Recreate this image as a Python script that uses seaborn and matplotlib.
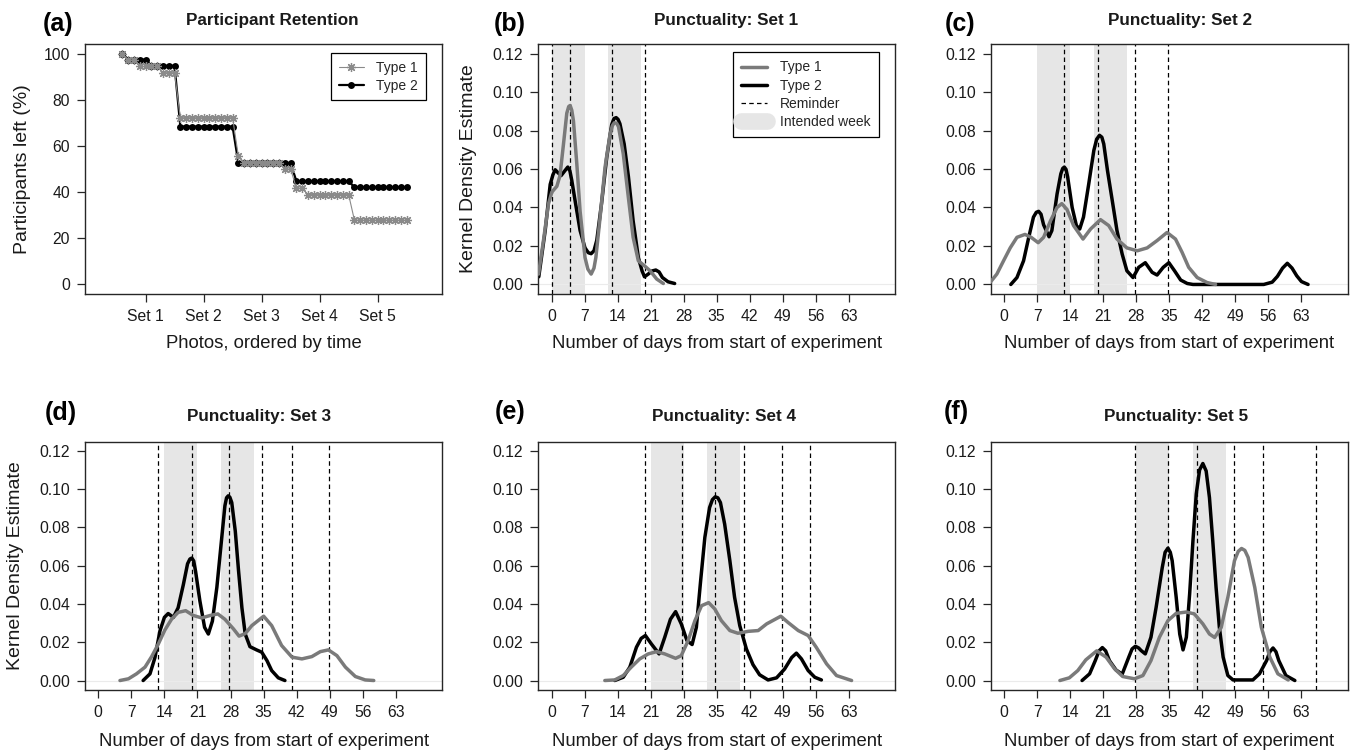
import numpy as np
import pandas as pd
import matplotlib
matplotlib.use("Agg")
import matplotlib.pyplot as plt
import seaborn as sns
from matplotlib.lines import Line2D

# ---------------- data ----------------
photo_index = list(range(1, 51))
set_ticks = [5, 15, 25, 35, 45]
set_labels = ["Set 1", "Set 2", "Set 3", "Set 4", "Set 5"]
type1_retention = ([100, 97.2, 97.2, 94.4, 94.4, 94.4, 94.4, 91.7, 91.7, 91.7]
                   + [72.2] * 10
                   + [55.6] + [52.8] * 7 + [50.0, 50.0]
                   + [41.7, 41.7] + [38.9] * 8
                   + [27.8] * 10)
type2_retention = ([100, 97.4, 97.4, 97.4, 97.4] + [94.7] * 5
                   + [68.4] * 10 + [52.6] * 10 + [44.7] * 10 + [42.1] * 10)

day_ticks = [0, 7, 14, 21, 28, 35, 42, 49, 56, 63]
dens_ticks = [0.00, 0.02, 0.04, 0.06, 0.08, 0.10, 0.12]

# Set 1
s1_t1_day = [-2.75, -1.7, -0.63, 0.07, 1.13, 1.8, 2.54, 3.24, 3.65, 3.95, 4.3, 4.65, 5.36, 6.06, 7.1, 7.7,
             8.4, 9.0, 9.4, 10.3, 11.35, 12.4, 12.9, 13.3, 13.8, 14.2, 15.2, 16.3, 17.3, 18.4, 19.7, 20.9,
             22.3, 23.7]
s1_t1_kde = [0.0054, 0.023, 0.042, 0.048, 0.051, 0.0566, 0.073, 0.089, 0.0925, 0.093, 0.0905, 0.085, 0.0627,
             0.038, 0.014, 0.008, 0.0054, 0.0085, 0.014, 0.035, 0.061, 0.078, 0.0825, 0.084, 0.0838, 0.082,
             0.068, 0.045, 0.0245, 0.0123, 0.0097, 0.0071, 0.0028, 0.0005]
s1_t2_day = [-2.7, -1.34, -0.28, 0.3, 0.78, 1.4, 2.04, 2.8, 3.45, 3.9, 4.3, 5.1, 6.06, 7.1, 7.8, 8.4, 9.0,
             9.6, 10.6, 11.7, 12.75, 13.25, 13.7, 14.1, 14.5, 15.4, 16.3, 17.3, 18.4, 19.2, 19.7, 20.5, 21.3,
             22.1, 22.8, 23.5, 24.7, 26.1]
s1_t2_kde = [0.004, 0.028, 0.052, 0.057, 0.0596, 0.058, 0.0566, 0.059, 0.061, 0.059, 0.054, 0.042, 0.028,
             0.019, 0.0165, 0.016, 0.0175, 0.023, 0.042, 0.066, 0.083, 0.0862, 0.0867, 0.0858, 0.0835, 0.073,
             0.056, 0.033, 0.014, 0.007, 0.004, 0.0054, 0.007, 0.0075, 0.0065, 0.0036, 0.0014, 0.0005]
s1_reminders = [0, 3.9, 12.75, 19.9]
s1_weeks = [(0, 7), (12, 19)]

# Set 2
s2_t1_day = [-3.0, -1.56, -0.14, 1.27, 2.7, 4.4, 5.7, 7.2, 8.35, 9.8, 11.2, 12.2, 13.3, 14.7, 16.7, 18.3,
             20.4, 22.15, 23.9, 26.0, 28.2, 30.3, 32.4, 34.5, 36.3, 37.7, 39.1, 40.9, 43.0, 44.8]
s2_t1_kde = [0.001, 0.0054, 0.0123, 0.019, 0.0245, 0.026, 0.0245, 0.0217, 0.0245, 0.033, 0.040, 0.042,
             0.039, 0.0306, 0.0236, 0.0288, 0.0337, 0.0306, 0.0236, 0.019, 0.0175, 0.019, 0.0228, 0.027,
             0.0236, 0.0167, 0.0089, 0.0036, 0.001, 0.0]
s2_t2_day = [1.4, 2.7, 4.1, 5.2, 6.2, 6.8, 7.3, 7.8, 8.35, 9.5, 10.1, 11.2, 12.0, 12.4, 12.74, 13.1, 13.45,
             14.4, 15.3, 16.0, 16.8, 17.9, 19.0, 19.6, 20.2, 20.7, 21.1, 21.9, 22.9, 23.9, 25.0, 26.0, 27.3,
             28.5, 29.9, 31.35, 32.4, 33.7, 34.9, 36.1, 37.4, 38.8, 40.0, 55.0, 56.8, 57.9, 59.0, 60.0, 61.0,
             62.0, 63.0, 64.4]
s2_t2_kde = [0, 0.0036, 0.0123, 0.0245, 0.035, 0.0375, 0.038, 0.0365, 0.031, 0.0248, 0.028, 0.047, 0.0575,
             0.0603, 0.061, 0.0598, 0.0558, 0.040, 0.0306, 0.0288, 0.035, 0.052, 0.0697, 0.0755, 0.0775,
             0.0765, 0.073, 0.059, 0.0436, 0.028, 0.0158, 0.0071, 0.0036, 0.0089, 0.0113, 0.0063, 0.0049,
             0.0089, 0.0113, 0.0071, 0.0023, 0.0005, 0.0, 0.0, 0.0012, 0.0042, 0.0085, 0.011, 0.0085, 0.0045,
             0.0015, 0.0]
s2_reminders = [12.75, 19.9, 27.75, 34.75]
s2_weeks = [(7, 14), (19, 26)]

# Set 3
s3_t1_day = [4.6, 6.4, 8.1, 9.9, 11.3, 12.7, 14.1, 15.5, 16.9, 18.5, 20.1, 21.9, 23.7, 25.3, 26.8, 28.6,
             29.8, 31.1, 32.5, 35.0, 36.7, 38.8, 41.0, 43.1, 45.2, 47.0, 48.7, 50.5, 52.3, 54.4, 56.5, 58.3]
s3_t1_kde = [0, 0.0009, 0.0035, 0.007, 0.0125, 0.019, 0.0264, 0.032, 0.0356, 0.0365, 0.034, 0.0327, 0.034,
             0.0348, 0.032, 0.027, 0.0232, 0.0245, 0.0287, 0.0336, 0.0287, 0.0183, 0.0122, 0.0113, 0.0125,
             0.0151, 0.016, 0.013, 0.007, 0.0021, 0.0003, 0]
s3_t2_day = [9.5, 10.95, 12.0, 13.07, 14.0, 14.8, 15.9, 16.9, 18.0, 18.9, 19.4, 19.8, 20.2, 20.6, 21.5,
             22.5, 23.3, 24.15, 25.1, 26.0, 26.8, 27.15, 27.5, 27.85, 28.25, 29.0, 29.7, 30.4, 31.1, 32.1,
             33.5, 34.6, 35.7, 36.7, 38.1, 39.5]
s3_t2_kde = [0, 0.0035, 0.012, 0.026, 0.033, 0.035, 0.033, 0.038, 0.050, 0.061, 0.0635, 0.064, 0.0625,
             0.057, 0.0417, 0.0278, 0.0243, 0.031, 0.0487, 0.0713, 0.0913, 0.0955, 0.0965, 0.0958, 0.093,
             0.078, 0.057, 0.038, 0.0243, 0.0177, 0.016, 0.0148, 0.0104, 0.0052, 0.0014, 0]
s3_reminders = [12.75, 19.9, 27.75, 34.75, 41.0, 48.75]
s3_weeks = [(14, 21), (26, 33)]

# Set 4
s4_t1_day = [11.3, 13.4, 15.2, 16.9, 18.7, 20.5, 22.3, 24.0, 26.3, 27.5, 28.96, 30.4, 31.8, 33.3, 34.6,
             36.0, 37.8, 39.5, 41.7, 43.8, 45.6, 48.6, 50.1, 52.3, 54.4, 56.1, 58.3, 60.4, 63.6]
s4_t1_kde = [0, 0.0003, 0.0026, 0.007, 0.0113, 0.0139, 0.0151, 0.0139, 0.0116, 0.013, 0.0209, 0.0313,
             0.0391, 0.0407, 0.0374, 0.0313, 0.0261, 0.0247, 0.0257, 0.0261, 0.0296, 0.0336, 0.0304, 0.0261,
             0.0235, 0.0174, 0.0087, 0.0026, 0]
s4_t2_day = [13.4, 15.2, 16.6, 18.0, 19.0, 19.9, 21.2, 22.8, 24.0, 25.2, 26.3, 27.5, 28.7, 29.8, 30.7,
             31.6, 32.5, 33.5, 34.1, 34.7, 35.25, 35.8, 36.7, 37.8, 38.8, 39.9, 41.3, 42.7, 44.1, 45.9, 47.7,
             49.4, 50.9, 51.9, 52.97, 54.4, 55.8, 57.2]
s4_t2_kde = [0, 0.0017, 0.007, 0.0174, 0.022, 0.0235, 0.019, 0.0139, 0.0226, 0.032, 0.036, 0.0296, 0.0209,
             0.0188, 0.0278, 0.052, 0.0748, 0.0904, 0.0945, 0.096, 0.0955, 0.093, 0.0817, 0.0626, 0.0435,
             0.0287, 0.0165, 0.0083, 0.003, 0.0003, 0.0014, 0.006, 0.012, 0.0143, 0.0113, 0.0052, 0.0017,
             0.0003]
s4_reminders = [19.9, 27.75, 34.75, 40.9, 48.75, 54.75]
s4_weeks = [(21, 28), (33, 40)]

# Set 5
s5_t1_day = [11.8, 13.8, 15.6, 17.3, 19.6, 21.6, 23.4, 25.1, 27.6, 29.4, 31.1, 32.9, 34.7, 36.45, 38.6,
             40.3, 42.1, 43.5, 44.6, 46.0, 47.4, 48.8, 49.6, 50.3, 51.0, 51.7, 53.1, 54.5, 56.3, 58.0, 60.2]
s5_t1_kde = [0, 0.0014, 0.0052, 0.0108, 0.0155, 0.0122, 0.0061, 0.0021, 0.0009, 0.0026, 0.0104, 0.0226,
             0.0313, 0.0351, 0.0358, 0.0348, 0.0296, 0.0243, 0.0225, 0.0278, 0.0435, 0.0626, 0.0675, 0.069,
             0.068, 0.0643, 0.0487, 0.0278, 0.0122, 0.0035, 0.0003]
s5_t2_day = [16.5, 18.1, 19.3, 20.1, 20.8, 21.5, 22.3, 23.7, 25.0, 26.4, 27.1, 27.8, 28.5, 29.0, 29.9,
             31.1, 32.2, 33.5, 34.1, 34.7, 35.2, 35.6, 36.45, 37.2, 37.9, 38.6, 39.3, 40.0, 40.7, 41.4, 42.1,
             42.8, 43.5, 44.2, 44.9, 45.6, 46.4, 47.4, 48.5, 52.7, 54.1, 55.6, 56.3, 56.97, 57.6, 58.2, 59.7,
             61.6]
s5_t2_kde = [0, 0.0035, 0.0104, 0.0155, 0.0172, 0.0155, 0.0104, 0.0055, 0.0033, 0.0122, 0.0165, 0.0179,
             0.017, 0.0157, 0.0139, 0.0226, 0.0383, 0.0591, 0.067, 0.0692, 0.067, 0.0626, 0.0435, 0.0243,
             0.016, 0.0226, 0.0452, 0.073, 0.0974, 0.110, 0.1134, 0.1095, 0.0956, 0.073, 0.0487, 0.0278,
             0.0122, 0.0026, 0.0003, 0.0003, 0.0035, 0.0104, 0.015, 0.017, 0.015, 0.0104, 0.0026, 0]
s5_reminders = [27.75, 34.75, 40.9, 48.75, 54.9, 66.0]
s5_weeks = [(28, 35), (40, 47)]

# ---------------- style ----------------
sns.set_style("ticks")
plt.rcParams['font.family'] = ['Liberation Sans', 'DejaVu Sans']
plt.rcParams['axes.linewidth'] = 1.0

GRAY = '#7a7a7a'
SHADE = '#e6e6e6'
FRAME = '#262626'
TXT = '#1a1a1a'

W, H = 1353, 752
fig = plt.figure(figsize=(W / 100, H / 100), dpi=100)


def px_axes(left, top, right, bottom):
    return fig.add_axes([left / W, 1 - bottom / H, (right - left) / W, (bottom - top) / H])


def style_axes(ax):
    for s in ax.spines.values():
        s.set_color(FRAME)
        s.set_linewidth(1.0)
        s.set_visible(True)
    ax.tick_params(direction='out', length=5.8, width=0.9, color=FRAME, labelsize=11.3,
                   labelcolor=TXT, pad=5)
    ax.grid(False)


cols = [(85, 442.3), (538.3, 895), (991, 1347.7)]
rows = [(44.3, 293.7), (441.7, 689.7)]

# ---------------- panel (a) ----------------
axA = px_axes(cols[0][0], rows[0][0], cols[0][1], rows[0][1])
style_axes(axA)
sns.lineplot(x=photo_index, y=type1_retention, ax=axA, color='#8a8a8a', lw=0.8,
             marker=(8, 2, 0), markersize=6.5, markeredgewidth=0.9, markeredgecolor='#8a8a8a',
             errorbar=None, zorder=3)
sns.lineplot(x=photo_index, y=type2_retention, ax=axA, color='black', lw=1.6,
             marker='o', markersize=5, markeredgewidth=0, markeredgecolor='black',
             errorbar=None, zorder=2)
axA.set_xlim(-5.43, 56.14)
axA.set_ylim(-4, 104)
axA.set_yticks([0, 20, 40, 60, 80, 100])
axA.set_xticks(set_ticks)
axA.set_xticklabels(set_labels)
axA.set_xlabel("Photos, ordered by time", fontsize=13.3, color=TXT)
axA.set_ylabel("Participants left (%)", fontsize=14, color=TXT)
axA.xaxis.set_label_coords(0.5, (293.7 - 344) / 249.4)
axA.xaxis.label.set_va('center')
axA.yaxis.set_label_coords((23 - 85) / 357.3, 0.5)
axA.yaxis.label.set_va('center')
hA = [Line2D([], [], color='#8a8a8a', lw=0.8, marker=(8, 2, 0), markersize=6.5,
             markeredgewidth=0.9, markeredgecolor='#8a8a8a'),
      Line2D([], [], color='black', lw=1.6, marker='o', markersize=5, markeredgewidth=0)]
legA = axA.legend(hA, ["Type 1", "Type 2"], loc='upper right', bbox_to_anchor=(0.954, 0.965),
                  borderaxespad=0, frameon=True, fancybox=False, framealpha=1, edgecolor='black',
                  fontsize=10, handlelength=1.8, labelspacing=0.3, borderpad=0.55, handletextpad=0.9)
legA.get_frame().set_linewidth(0.9)

# ---------------- KDE panels ----------------
panels = [
    (s1_t1_day, s1_t1_kde, s1_t2_day, s1_t2_kde, s1_reminders, s1_weeks),
    (s2_t1_day, s2_t1_kde, s2_t2_day, s2_t2_kde, s2_reminders, s2_weeks),
    (s3_t1_day, s3_t1_kde, s3_t2_day, s3_t2_kde, s3_reminders, s3_weeks),
    (s4_t1_day, s4_t1_kde, s4_t2_day, s4_t2_kde, s4_reminders, s4_weeks),
    (s5_t1_day, s5_t1_kde, s5_t2_day, s5_t2_kde, s5_reminders, s5_weeks),
]
positions = [(1, 0), (2, 0), (0, 1), (1, 1), (2, 1)]
axes = {}
for (t1x, t1y, t2x, t2y, rem, weeks), (ci, ri) in zip(panels, positions):
    l, r = cols[ci]
    t, b = rows[ri]
    ax = px_axes(l, t, r, b)
    style_axes(ax)
    for (a0, a1) in weeks:
        ax.axvspan(a0, a1, color=SHADE, lw=0, zorder=0)
    ax.axhline(0, color='#ebebeb', lw=0.8, zorder=0.5)
    for d in rem:
        ax.axvline(d, color='black', lw=0.9, ls=(0, (3.6, 2.6)), zorder=1)
    sns.lineplot(x=t2x, y=t2y, ax=ax, color='black', lw=2.5, errorbar=None, zorder=2,
                 solid_joinstyle='round', solid_capstyle='round')
    sns.lineplot(x=t1x, y=t1y, ax=ax, color=GRAY, lw=2.5, errorbar=None, zorder=3,
                 solid_joinstyle='round', solid_capstyle='round')
    ax.set_xlim(-2.8, 72.8)
    ax.set_ylim(-0.0048, 0.1248)
    ax.set_xticks(day_ticks)
    ax.set_yticks(dens_ticks)
    ax.set_yticklabels([f"{v:.2f}" for v in dens_ticks])
    ax.set_xlabel("Number of days from start of experiment", fontsize=13.3, color=TXT)
    ax.xaxis.set_label_coords(0.5, (b - (344 if ri == 0 else 741)) / (b - t))
    ax.xaxis.label.set_va('center')
    ax.set_ylabel("")
    axes[(ci, ri)] = ax

for key, xpx in [((1, 0), 468.3), ((0, 1), 16.0)]:
    ax = axes[key]
    l, r = cols[key[0]]
    ax.set_ylabel("Kernel Density Estimate", fontsize=14, color=TXT)
    ax.yaxis.set_label_coords((xpx - l) / (r - l), 0.5)
    ax.yaxis.label.set_va('center')

# legend in panel (b)
hB = [Line2D([], [], color=GRAY, lw=2.5),
      Line2D([], [], color='black', lw=2.5),
      Line2D([], [], color='black', lw=0.9, ls=(0, (3.6, 2.6))),
      Line2D([], [], color=SHADE, lw=12, solid_capstyle='round')]
legB = axes[(1, 0)].legend(hB, ["Type 1", "Type 2", "Reminder", "Intended week"], loc='upper right',
                           bbox_to_anchor=(0.955, 0.969), borderaxespad=0, frameon=True, fancybox=False,
                           framealpha=1, edgecolor='black', fontsize=10, handlelength=1.9,
                           labelspacing=0.3, borderpad=0.6, handletextpad=0.9)
legB.get_frame().set_linewidth(0.9)

# ---------------- titles and panel labels ----------------
titles = [("Participant Retention", 272.7, 20), ("Punctuality: Set 1", 726, 20),
          ("Punctuality: Set 2", 1179.5, 20), ("Punctuality: Set 3", 259, 416),
          ("Punctuality: Set 4", 724.5, 416), ("Punctuality: Set 5", 1176.3, 417)]
for txt, x, y in titles:
    fig.text(x / W, 1 - y / H, txt, ha='center', va='center', fontsize=12.3, fontweight='bold', color=TXT)

plabels = [("(a)", 43, 24.3), ("(b)", 493.3, 24.3), ("(c)", 944.3, 24.3),
           ("(d)", 45, 413.5), ("(e)", 494.3, 412), ("(f)", 943.3, 412)]
for txt, x, y in plabels:
    fig.text(x / W, 1 - y / H, txt, ha='left', va='center', fontsize=18, fontweight='bold', color='black')

fig.savefig("out.png", dpi=100, facecolor='white')
